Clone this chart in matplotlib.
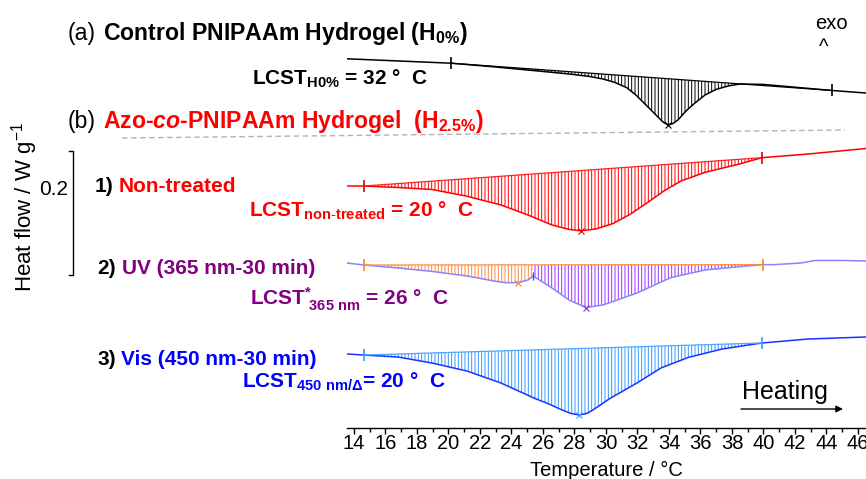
import numpy as np
import matplotlib
matplotlib.use("Agg")
import matplotlib.pyplot as plt
from matplotlib.transforms import blended_transform_factory
from matplotlib.lines import Line2D

plt.rcParams['font.family'] = ['Liberation Sans', 'DejaVu Sans']
plt.rcParams['mathtext.fontset'] = 'custom'
plt.rcParams['mathtext.rm'] = 'Liberation Sans'
plt.rcParams['mathtext.bf'] = 'Liberation Sans:bold'
plt.rcParams['mathtext.it'] = 'Liberation Sans:italic'
plt.rcParams['mathtext.bfit'] = 'Liberation Sans:italic:bold'
plt.rcParams['mathtext.sf'] = 'Liberation Sans'
plt.rcParams['hatch.linewidth'] = 0.7

# ---------------- data (temperature in degC, heat flow in W/g incl. stacking offset) ----
T_h0 = [13.56, 20.16, 22.63, 25.49, 27.65, 28.98, 29.81, 30.57, 31.33, 31.90, 32.41,
        32.86, 33.30, 33.62, 33.94, 34.25, 34.57, 35.08, 35.65, 36.29, 36.98, 37.75,
        38.51, 39.97, 44.35, 46.51]
Q_h0 = [0.5955, 0.5884, 0.5831, 0.5763, 0.5710, 0.5669, 0.5629, 0.5573, 0.5487, 0.5371,
        0.5242, 0.5129, 0.5016, 0.4935, 0.4887, 0.4911, 0.4968, 0.5113, 0.5242, 0.5371,
        0.5460, 0.5516, 0.5548, 0.5542, 0.5444, 0.5403]
lim_h0 = (20.16, 44.35)

T_nt = [13.56, 14.63, 16.79, 18.95, 21.11, 23.33, 25.05, 26.57, 27.65, 28.41, 29.37,
        30.44, 31.52, 32.60, 33.68, 34.76, 36.29, 38.51, 39.90, 42.83, 46.51]
Q_nt = [0.3903, 0.3903, 0.3879, 0.3847, 0.3742, 0.3597, 0.3435, 0.3274, 0.3203, 0.3181,
        0.3210, 0.3297, 0.3445, 0.3629, 0.3823, 0.3984, 0.4123, 0.4260, 0.4360, 0.4419,
        0.4508]
lim_nt = (14.63, 39.90)

T_uv = [13.56, 14.63, 16.79, 18.95, 21.17, 22.89, 23.65, 24.41, 25.05, 25.37, 26.57,
        27.65, 28.73, 29.81, 31.97, 34.13, 36.29, 38.51, 39.97, 40.67, 42.38, 43.27,
        44.98, 46.51]
Q_uv = [0.2661, 0.2629, 0.2581, 0.2526, 0.2452, 0.2371, 0.2344, 0.2344, 0.2387, 0.2452,
        0.2258, 0.2065, 0.1942, 0.1984, 0.2177, 0.2427, 0.2548, 0.2603, 0.2635, 0.2635,
        0.2661, 0.2702, 0.2702, 0.2694]
lim_uv = (14.63, 39.97)
split_uv = 25.37

T_vis = [13.56, 14.63, 16.79, 18.95, 21.17, 23.33, 25.49, 26.32, 27.21, 27.78, 28.29,
         28.79, 29.17, 30.25, 31.97, 33.49, 35.21, 37.37, 39.90, 42.83, 46.51]
Q_vis = [0.1194, 0.1177, 0.1145, 0.1048, 0.0919, 0.0726, 0.0476, 0.0394, 0.0290, 0.0234,
         0.0210, 0.0234, 0.0290, 0.0476, 0.0726, 0.0968, 0.1137, 0.1274, 0.1371, 0.1435,
         0.1468]
lim_vis = (14.63, 39.90)

x_ticks = list(range(14, 47, 2))
scale_value = 0.2
scale_bottom = 0.2468

# ---------------- figure ----------------
W, H = 866, 479
fig = plt.figure(figsize=(W / 100, H / 100), dpi=100)
ax_left, ax_bottom_px = 347, 428
ax = fig.add_axes([ax_left / W, (H - ax_bottom_px) / H, (W - ax_left) / W, ax_bottom_px / H])
ax.set_xlim(13.556, 46.51)
ax.set_ylim(0, ax_bottom_px / 620)
ax.patch.set_alpha(0)
for s in ('left', 'right', 'top'):
    ax.spines[s].set_visible(False)
ax.spines['bottom'].set_linewidth(1.0)
ax.set_yticks([])
ax.set_xticks(x_ticks)
ax.set_xticks(np.arange(14, 47, 1), minor=True)
ax.tick_params(axis='x', which='major', direction='out', length=4, width=1,
               labelsize=14.5, pad=0)
ax.tick_params(axis='x', which='minor', direction='out', length=3, width=1)
ax.set_xlabel('Temperature / °C', fontsize=14.5, labelpad=6)


def draw_peak(T, Q, lim, line_c, hatch_c, base_c, mark_c, regions=None):
    T = np.asarray(T); Q = np.asarray(Q)
    ax.plot(T, Q, color=line_c, lw=1.1, zorder=3)
    q1, q2 = np.interp(lim[0], T, Q), np.interp(lim[1], T, Q)
    base = q1 + (T - lim[0]) * (q2 - q1) / (lim[1] - lim[0])
    if regions is None:
        regions = [(lim[0], lim[1], hatch_c, mark_c)]
    for (a, b, hc, mc) in regions:
        m = (T >= a - 1e-9) & (T <= b + 1e-9)
        ax.fill_between(T[m], Q[m], base[m], facecolor='none', edgecolor=hc,
                        hatch='|||||', linewidth=0, zorder=2)
        i = np.argmin(Q[m] - base[m])
        ax.plot(T[m][i], Q[m][i], marker='x', ms=4, mew=0.8, color=mc, zorder=4)
    ax.plot([lim[0], lim[1]], [q1, q2], color=base_c, lw=0.9, zorder=3)
    ax.plot([lim[0], lim[1]], [q1, q2], ls='none', marker='|', ms=8, mew=1.2,
            color=mark_c, zorder=4)


draw_peak(T_h0, Q_h0, lim_h0, 'black', 'black', 'black', 'black')
draw_peak(T_nt, Q_nt, lim_nt, '#ff0000', '#ff0000', '#ff2020', '#e00000')
draw_peak(T_uv, Q_uv, lim_uv, '#8585ff', None, '#ff8c40', '#ff7f2a',
          regions=[(lim_uv[0], split_uv, '#ff8c40', '#ff7f2a'),
                   (split_uv, lim_uv[1], '#9933ff', '#8a2be2')])
ax.plot([split_uv], [np.interp(split_uv, T_uv, Q_uv)], marker='|', ms=6, mew=1,
        color='#8a2be2', zorder=4)
draw_peak(T_vis, Q_vis, lim_vis, '#1a33ff', '#3399ff', '#4da6ff', '#3399ff')

# scale bar (bracket)
tr = blended_transform_factory(fig.transFigure, ax.transData)
xb, xt = 73 / W, 68.5 / W
fig.add_artist(Line2D([xt, xb, xb, xt],
                      [scale_bottom + scale_value, scale_bottom + scale_value,
                       scale_bottom, scale_bottom],
                      transform=tr, color='black', lw=1.0))


def ftext(x, y, s, **kw):
    kw.setdefault('va', 'baseline')
    kw.setdefault('ha', 'left')
    return fig.text(x / W, 1 - y / H, s, **kw)


fs = 15
fst = 16.6
RED, PUR, BLU = '#ff0000', '#800080', '#0000ff'
ftext(68, 40, '(a)', fontsize=fst)
ftext(103, 40, r'Control PNIPAAm Hydrogel (H$_{\mathbf{0\%}}$)', fontsize=fst, fontweight='bold')
ftext(815, 29, 'exo', fontsize=14.5)
ftext(819, 53, '^', fontsize=14.5)
ftext(252, 85, r'LCST$_{\mathbf{H0\%}}$ = 32 °  C', fontsize=fs, fontweight='bold')
ftext(68, 128, '(b)', fontsize=fst)
ftext(103, 128, r'Azo-$\mathbfit{co}$-PNIPAAm Hydrogel  (H$_{\mathbf{2.5\%}}$)',
      fontsize=fst, fontweight='bold', color=RED)
fig.add_artist(Line2D([122 / W, 845 / W], [1 - 138 / H, 1 - 130 / H],
                      color='#b3b3b3', lw=1.0, ls=(0, (4, 2.5))))

ftext(95, 192, '1)', fontsize=fs, fontweight='bold')
ftext(119, 192, 'Non-treated', fontsize=fs, fontweight='bold', color=RED)
ftext(249, 217, r'LCST$_{\mathbf{non\text{-}treated}}$ = 20 °  C', fontsize=fs,
      fontweight='bold', color=RED)

ftext(97, 274, '2)', fontsize=fs, fontweight='bold')
ftext(122, 274, 'UV (365 nm-30 min)', fontsize=fs, fontweight='bold', color=PUR)
ftext(250, 305, r'LCST$^{\mathbf{*}}_{\ \mathbf{365\ nm}}$ = 26 °  C', fontsize=fs,
      fontweight='bold', color=PUR)

ftext(97, 365, '3)', fontsize=fs, fontweight='bold')
ftext(121, 365, 'Vis (450 nm-30 min)', fontsize=fs, fontweight='bold', color=BLU)
ftext(242, 388, r'LCST$_{\mathbf{450\ nm/Δ}}$= 20 °  C', fontsize=fs,
      fontweight='bold', color=BLU)

ftext(742, 399, 'Heating', fontsize=18)
ax.annotate('', xy=(843 / W, 1 - 409 / H), xytext=(741 / W, 1 - 409 / H),
            xycoords='figure fraction', textcoords='figure fraction',
            arrowprops=dict(arrowstyle='-|>', color='black', lw=1.0, mutation_scale=10,
                            shrinkA=0, shrinkB=0))

ftext(54, 190, '0.2', fontsize=fs, ha='center', va='center')
ftext(25, 207, r'Heat flow / W g$^{-1}$', fontsize=16, rotation=90, ha='center', va='center')

fig.savefig('out.png', dpi=100)
